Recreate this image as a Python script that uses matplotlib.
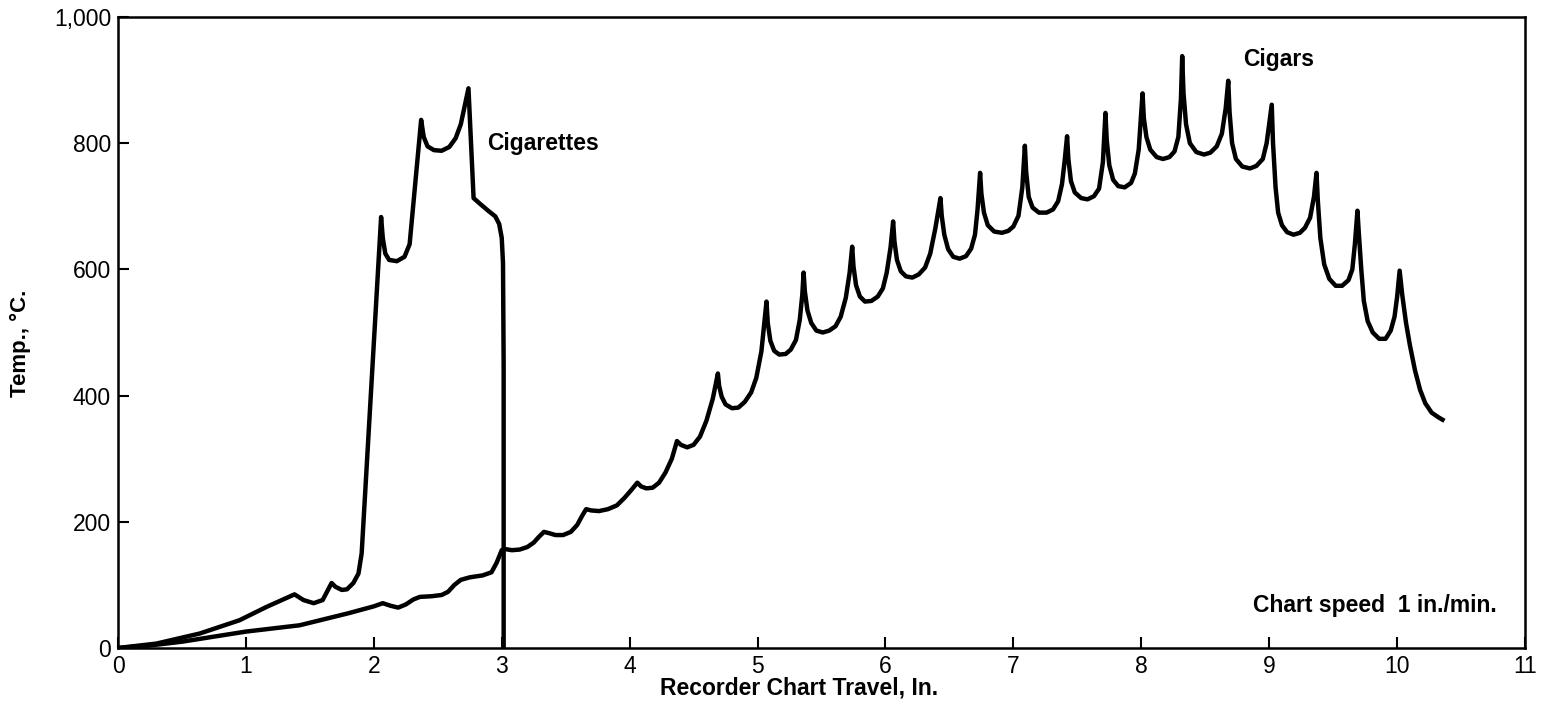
import matplotlib
matplotlib.use("Agg")
import matplotlib.pyplot as plt
from matplotlib.ticker import FuncFormatter

plt.rcParams['font.family'] = ['Liberation Sans', 'DejaVu Sans']

# Cigarettes trace
cig_x = [0, 0.3, 0.64, 0.95, 1.16, 1.38, 1.45, 1.53, 1.6, 1.67, 1.7, 1.75, 1.79, 1.84, 1.88, 1.905,
         2.057, 2.07, 2.09, 2.12, 2.18, 2.24, 2.28, 2.37, 2.39, 2.42, 2.47, 2.53, 2.59, 2.64, 2.68,
         2.74, 2.78, 2.83, 2.9, 2.95, 2.98, 3.0, 3.01, 3.015, 3.015]
cig_y = [0, 7, 23, 44, 65, 85, 76, 71, 76, 103, 97, 92, 93, 103, 118, 150,
         683, 650, 625, 615, 613, 620, 640, 837, 810, 795, 789, 788, 794, 808, 830,
         887, 713, 704, 692, 684, 672, 650, 610, 450, 0]

# Cigars trace
cigar_x = [0, 0.25, 0.5, 0.75, 1.0, 1.42, 1.8, 2.0, 2.07, 2.13, 2.19, 2.25, 2.31, 2.36, 2.45, 2.53,
           2.58, 2.63, 2.68, 2.75, 2.85, 2.92, 2.96, 3.0,
           3.02, 3.08, 3.14, 3.20, 3.25, 3.29, 3.33, 3.37, 3.42, 3.48, 3.54, 3.59, 3.63, 3.66,
           3.70, 3.76, 3.83, 3.90, 3.96, 4.02, 4.06, 4.09, 4.13, 4.18, 4.23, 4.28, 4.33, 4.37,
           4.40, 4.45, 4.50, 4.55, 4.60, 4.65, 4.69,
           4.70, 4.72, 4.75, 4.80, 4.85, 4.90, 4.95, 4.99, 5.03, 5.05, 5.07,
           5.08, 5.10, 5.13, 5.17, 5.22, 5.26, 5.30, 5.33, 5.35, 5.36,
           5.37, 5.39, 5.42, 5.46, 5.51, 5.56, 5.61, 5.65, 5.69, 5.72, 5.74,
           5.75, 5.77, 5.80, 5.84, 5.89, 5.94, 5.98, 6.01, 6.04, 6.06,
           6.07, 6.09, 6.12, 6.16, 6.21, 6.26, 6.31, 6.35, 6.39, 6.43,
           6.44, 6.46, 6.49, 6.53, 6.58, 6.63, 6.67, 6.70, 6.72, 6.74,
           6.75, 6.77, 6.80, 6.85, 6.91, 6.96, 7.00, 7.04, 7.07, 7.09,
           7.10, 7.12, 7.15, 7.20, 7.26, 7.31, 7.35, 7.38, 7.40, 7.42,
           7.43, 7.45, 7.48, 7.53, 7.58, 7.63, 7.67, 7.70, 7.72,
           7.73, 7.75, 7.78, 7.82, 7.87, 7.92, 7.95, 7.98, 8.01,
           8.02, 8.04, 8.07, 8.12, 8.17, 8.22, 8.26, 8.29, 8.31, 8.32,
           8.33, 8.35, 8.38, 8.43, 8.49, 8.54, 8.59, 8.63, 8.66, 8.68,
           8.69, 8.71, 8.74, 8.79, 8.85, 8.90, 8.95, 8.98, 9.00, 9.02,
           9.03, 9.05, 9.07, 9.10, 9.14, 9.19, 9.24, 9.28, 9.32, 9.35, 9.37,
           9.38, 9.40, 9.43, 9.47, 9.52, 9.57, 9.62, 9.65, 9.67, 9.69,
           9.70, 9.72, 9.74, 9.77, 9.81, 9.86, 9.91, 9.95, 9.98, 10.0, 10.02,
           10.04, 10.07, 10.10, 10.14, 10.18, 10.22, 10.27, 10.32, 10.37]
cigar_y = [0, 4, 10, 18, 26, 36, 55, 66, 71, 67, 64, 69, 77, 81, 82, 84,
           89, 100, 108, 112, 115, 120, 135, 155,
           157, 155, 156, 160, 167, 176, 184, 182, 179, 179, 184, 195, 210, 220,
           218, 217, 220, 226, 238, 252, 262, 256, 253, 254, 262, 278, 300, 328,
           322, 318, 322, 335, 360, 395, 435,
           415, 398, 386, 380, 381, 390, 405, 428, 470, 510, 549,
           515, 487, 471, 465, 466, 473, 488, 520, 560, 595,
           565, 535, 515, 503, 500, 503, 510, 525, 555, 595, 636,
           605, 575, 557, 549, 550, 557, 570, 595, 635, 676,
           645, 615, 597, 589, 587, 592, 603, 625, 665, 713,
           685, 655, 632, 620, 617, 621, 633, 655, 695, 753,
           720, 690, 670, 660, 658, 661, 668, 685, 730, 796,
           755, 715, 698, 690, 690, 695, 708, 735, 770, 811,
           775, 740, 722, 713, 711, 716, 728, 770, 848,
           805, 765, 742, 732, 730, 737, 752, 790, 879,
           840, 810, 790, 778, 775, 778, 787, 810, 870, 938,
           880, 830, 800, 786, 782, 785, 795, 815, 855, 899,
           850, 800, 775, 763, 760, 764, 775, 800, 830, 861,
           800, 730, 690, 670, 659, 655, 658, 666, 682, 715, 753,
           710, 650, 608, 585, 574, 574, 583, 600, 640, 693,
           660, 600, 550, 518, 500, 490, 490, 503, 525, 556, 598,
           560, 515, 480, 440, 409, 388, 373, 366, 360]

x_ticks = list(range(0, 12))
y_ticks = [0, 200, 400, 600, 800, 1000]

fig = plt.figure(figsize=(15.49, 7.19), dpi=100)
ax = fig.add_axes([118/1549, 1-648/719, (1525-118)/1549, (648-17)/719])

ax.plot(cig_x, cig_y, color='black', lw=3.2, solid_joinstyle='round', solid_capstyle='butt')
ax.plot(cigar_x, cigar_y, color='black', lw=3.2, solid_joinstyle='round', solid_capstyle='butt')

ax.set_xlim(0, 11)
ax.set_ylim(0, 1000)
ax.set_xticks(x_ticks)
ax.set_yticks(y_ticks)
ax.yaxis.set_major_formatter(FuncFormatter(lambda v, p: f"{int(v):,}"))
ax.tick_params(direction='in', length=8, width=1.5, labelsize=16.5, pad=5)
for s in ax.spines.values():
    s.set_linewidth(1.8)

ax.set_xlabel("Recorder Chart Travel, In.", fontsize=16.5, fontweight='bold', labelpad=1)
ax.xaxis.set_label_coords(0.484, -0.045)
ax.set_ylabel("Temp., \u00b0C.", fontsize=16, fontweight='bold', labelpad=12)
ax.yaxis.set_label_coords(-0.062, 0.483)

ax.text(2.885, 800, "Cigarettes", fontsize=16.5, fontweight='bold', ha='left', va='center')
ax.text(8.80, 932, "Cigars", fontsize=16.5, fontweight='bold', ha='left', va='center')
ax.text(10.78, 68, "Chart speed  1 in./min.", fontsize=16.5, fontweight='bold', ha='right', va='center')

fig.savefig("out.png", dpi=100)
